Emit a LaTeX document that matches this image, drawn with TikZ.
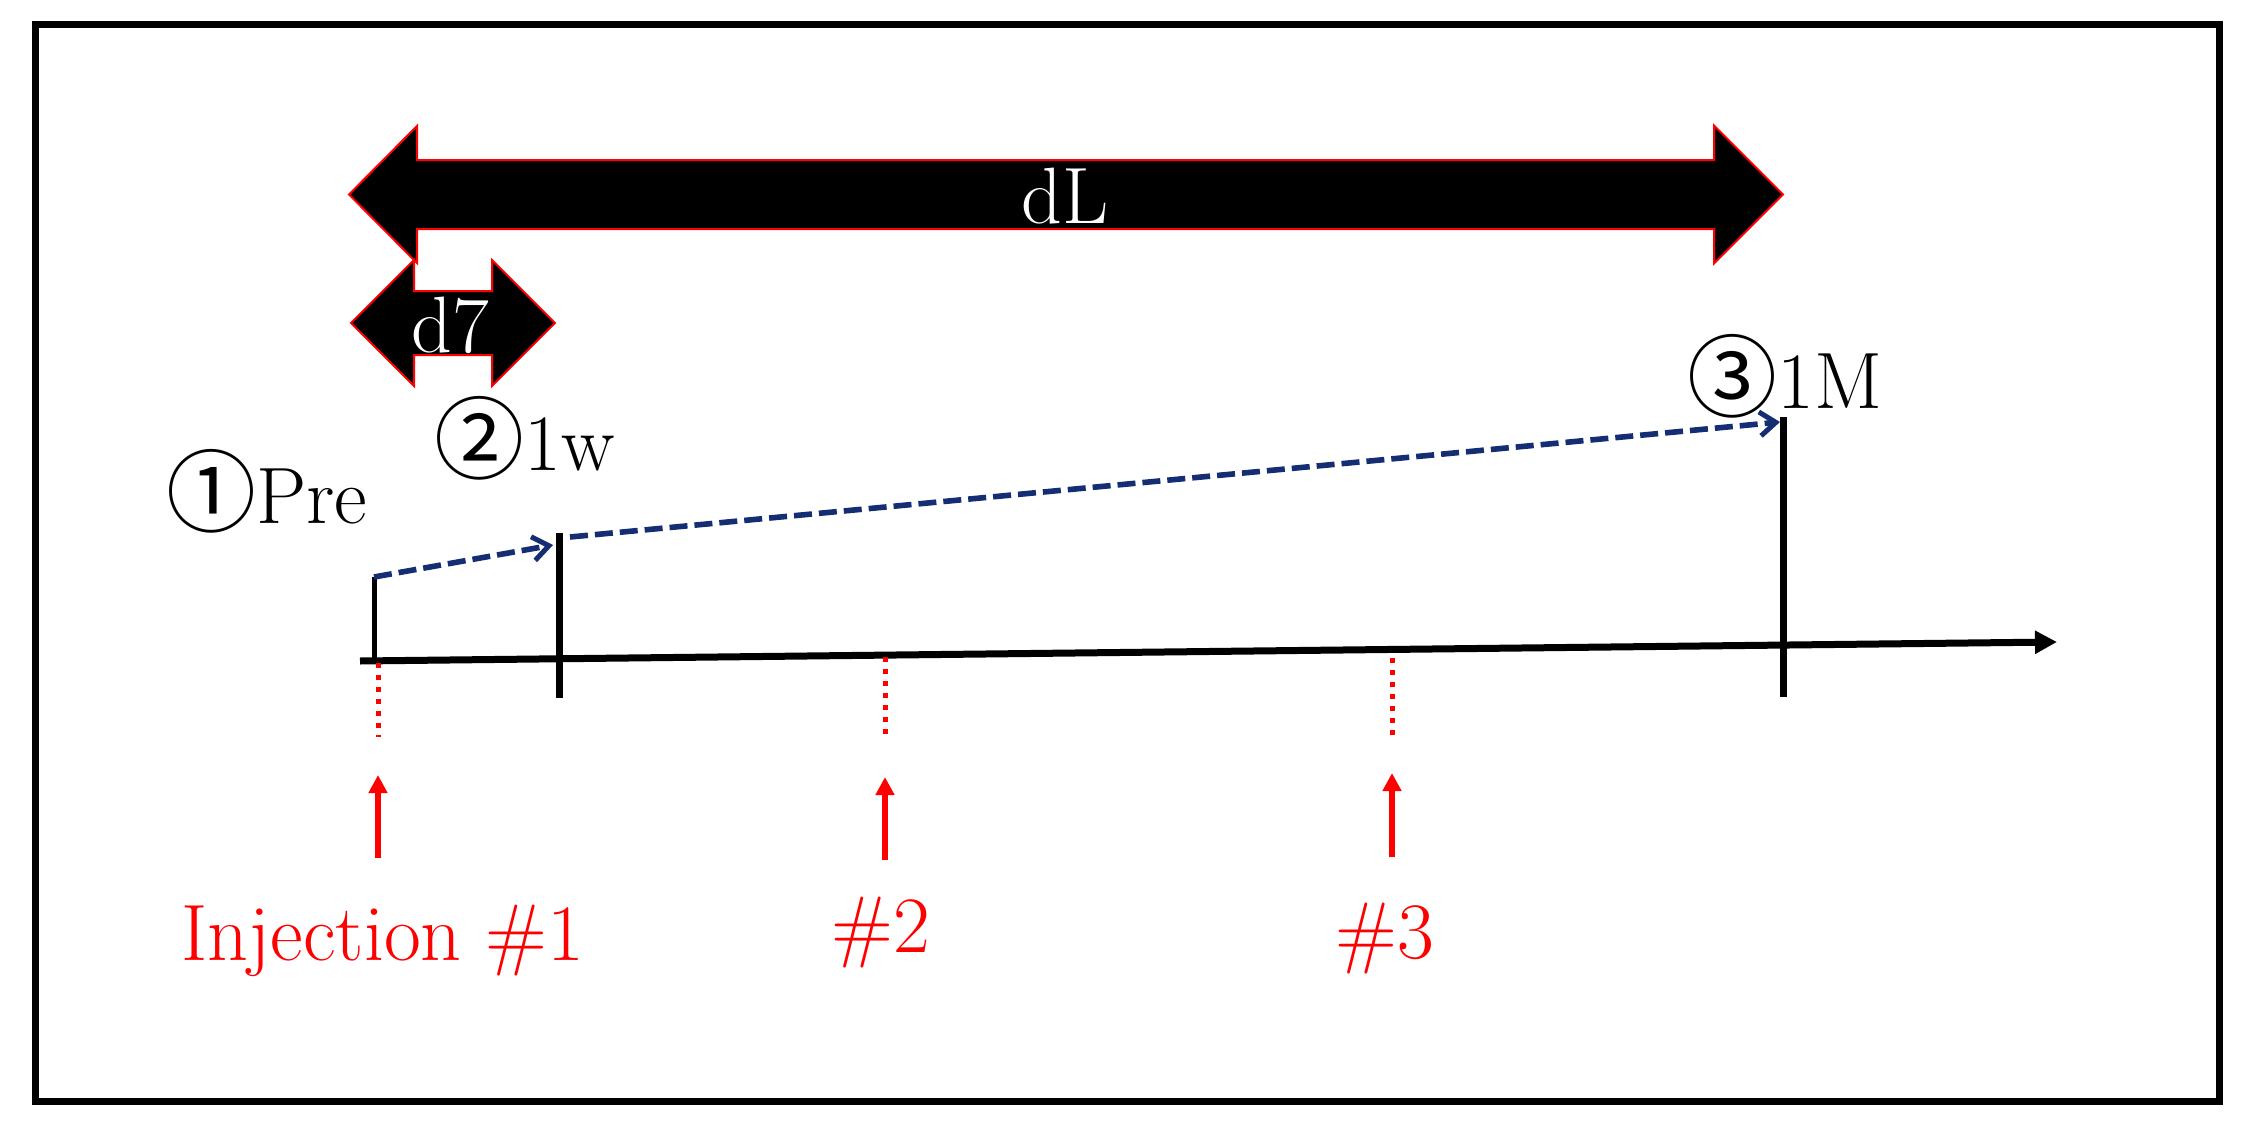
\documentclass[tikz,border=0pt]{standalone}
\usepackage{fontspec}
\newfontfamily\circfont{Noto Sans CJK JP}
\newcommand{\circd}[1]{{\circfont\fontsize{45}{48}\selectfont\raisebox{-1pt}{#1}}}
\usetikzlibrary{arrows.meta}
\definecolor{navy}{RGB}{20,45,115}
\begin{document}
\begin{tikzpicture}[x=0.5pt,y=-0.5pt,
  txt/.style={inner sep=0pt, anchor=base, font=\fontsize{40}{48}\selectfont},
  wtxt/.style={txt, text=white},
  rtxt/.style={txt, text=red},
  steplbl/.style={txt, anchor=base west},
  bigarrow/.style={fill=black, draw=red, line width=1pt, line join=miter},
  axisline/.style={line width=3.5pt, -{Triangle[length=11pt,width=11pt]}},
  tickline/.style={line width=3.5pt},
  thintick/.style={line width=2.5pt},
  period/.style={navy, line width=2.8pt, dash pattern=on 9pt off 3.5pt,
    -{Straight Barb[length=8pt,width=12pt,line width=2.5pt]}},
  dotline/.style={red, line width=2.5pt, dash pattern=on 2.5pt off 3.5pt},
  injarrow/.style={red, line width=3pt, -{Triangle[length=9pt,width=9pt]}}
]
\useasboundingbox (0,0) rectangle (2261,1124);
% frame
\draw[line width=3.5pt] (35.5,24) rectangle (2219.5,1101);

% big double arrows
\draw[bigarrow] (349,194.5) -- (417,126) -- (417,160) -- (1714,160) -- (1714,125.5)
  -- (1783,194.5) -- (1714,263.5) -- (1714,229) -- (417,229) -- (417,263) -- cycle;
\node[wtxt] (dL) at (1065,223) {dL};

\draw[bigarrow] (351,323) -- (414,260) -- (414,291) -- (492,291) -- (492,260)
  -- (555,323) -- (492,386) -- (492,355) -- (414,355) -- (414,386) -- cycle;
\node[wtxt] (d7) at (450,352) {d7};

% step labels
\node[steplbl] (pre) at (166,523) {\circd{①}Pre};
\node[steplbl] (w1) at (434,470) {\circd{②}1w};
\node[steplbl] (m1) at (1687,408) {\circd{③}1M};

% coordinates
\coordinate (ax0) at (360,661);
\coordinate (ax1) at (2057,642);
\coordinate (p0) at (374,661);
\coordinate (p1) at (374,577);
\coordinate (w0) at (559,698);
\coordinate (wt) at (559,533);
\coordinate (m0) at (1783,697);
\coordinate (mt) at (1783,417);
\coordinate (wa) at (553,545);
\coordinate (ws) at (570,537);
\coordinate (ma) at (1780,422);

% axis and ticks
\draw[axisline] (ax0) -- (ax1);
\draw[thintick] (p0) -- (p1);
\draw[tickline] (w0) -- (wt);
\draw[tickline] (m0) -- (mt);

% dashed period arrows
\draw[period] (p1) -- (wa);
\draw[period] (ws) -- (ma);

% injections
\coordinate (i1a) at (378,663);
\coordinate (i1b) at (378,737);
\coordinate (i2a) at (885,657);
\coordinate (i2b) at (885,737);
\coordinate (i3a) at (1392,658);
\coordinate (i3b) at (1392,737);
\draw[dotline] (i1a) -- (i1b);
\draw[dotline] (i2a) -- (i2b);
\draw[dotline] (i3a) -- (i3b);

\node[rtxt] (inj1) at (383,960) {Injection \#1};
\node[rtxt] (inj2) at (881,952) {\#2};
\node[rtxt] (inj3) at (1385,958) {\#3};

\coordinate (a1) at (378,775);
\coordinate (a2) at (885,777);
\coordinate (a3) at (1392,773);
\draw[injarrow] (378,858) -- (a1);
\draw[injarrow] (885,860) -- (a2);
\draw[injarrow] (1392,857) -- (a3);
\end{tikzpicture}
\end{document}
